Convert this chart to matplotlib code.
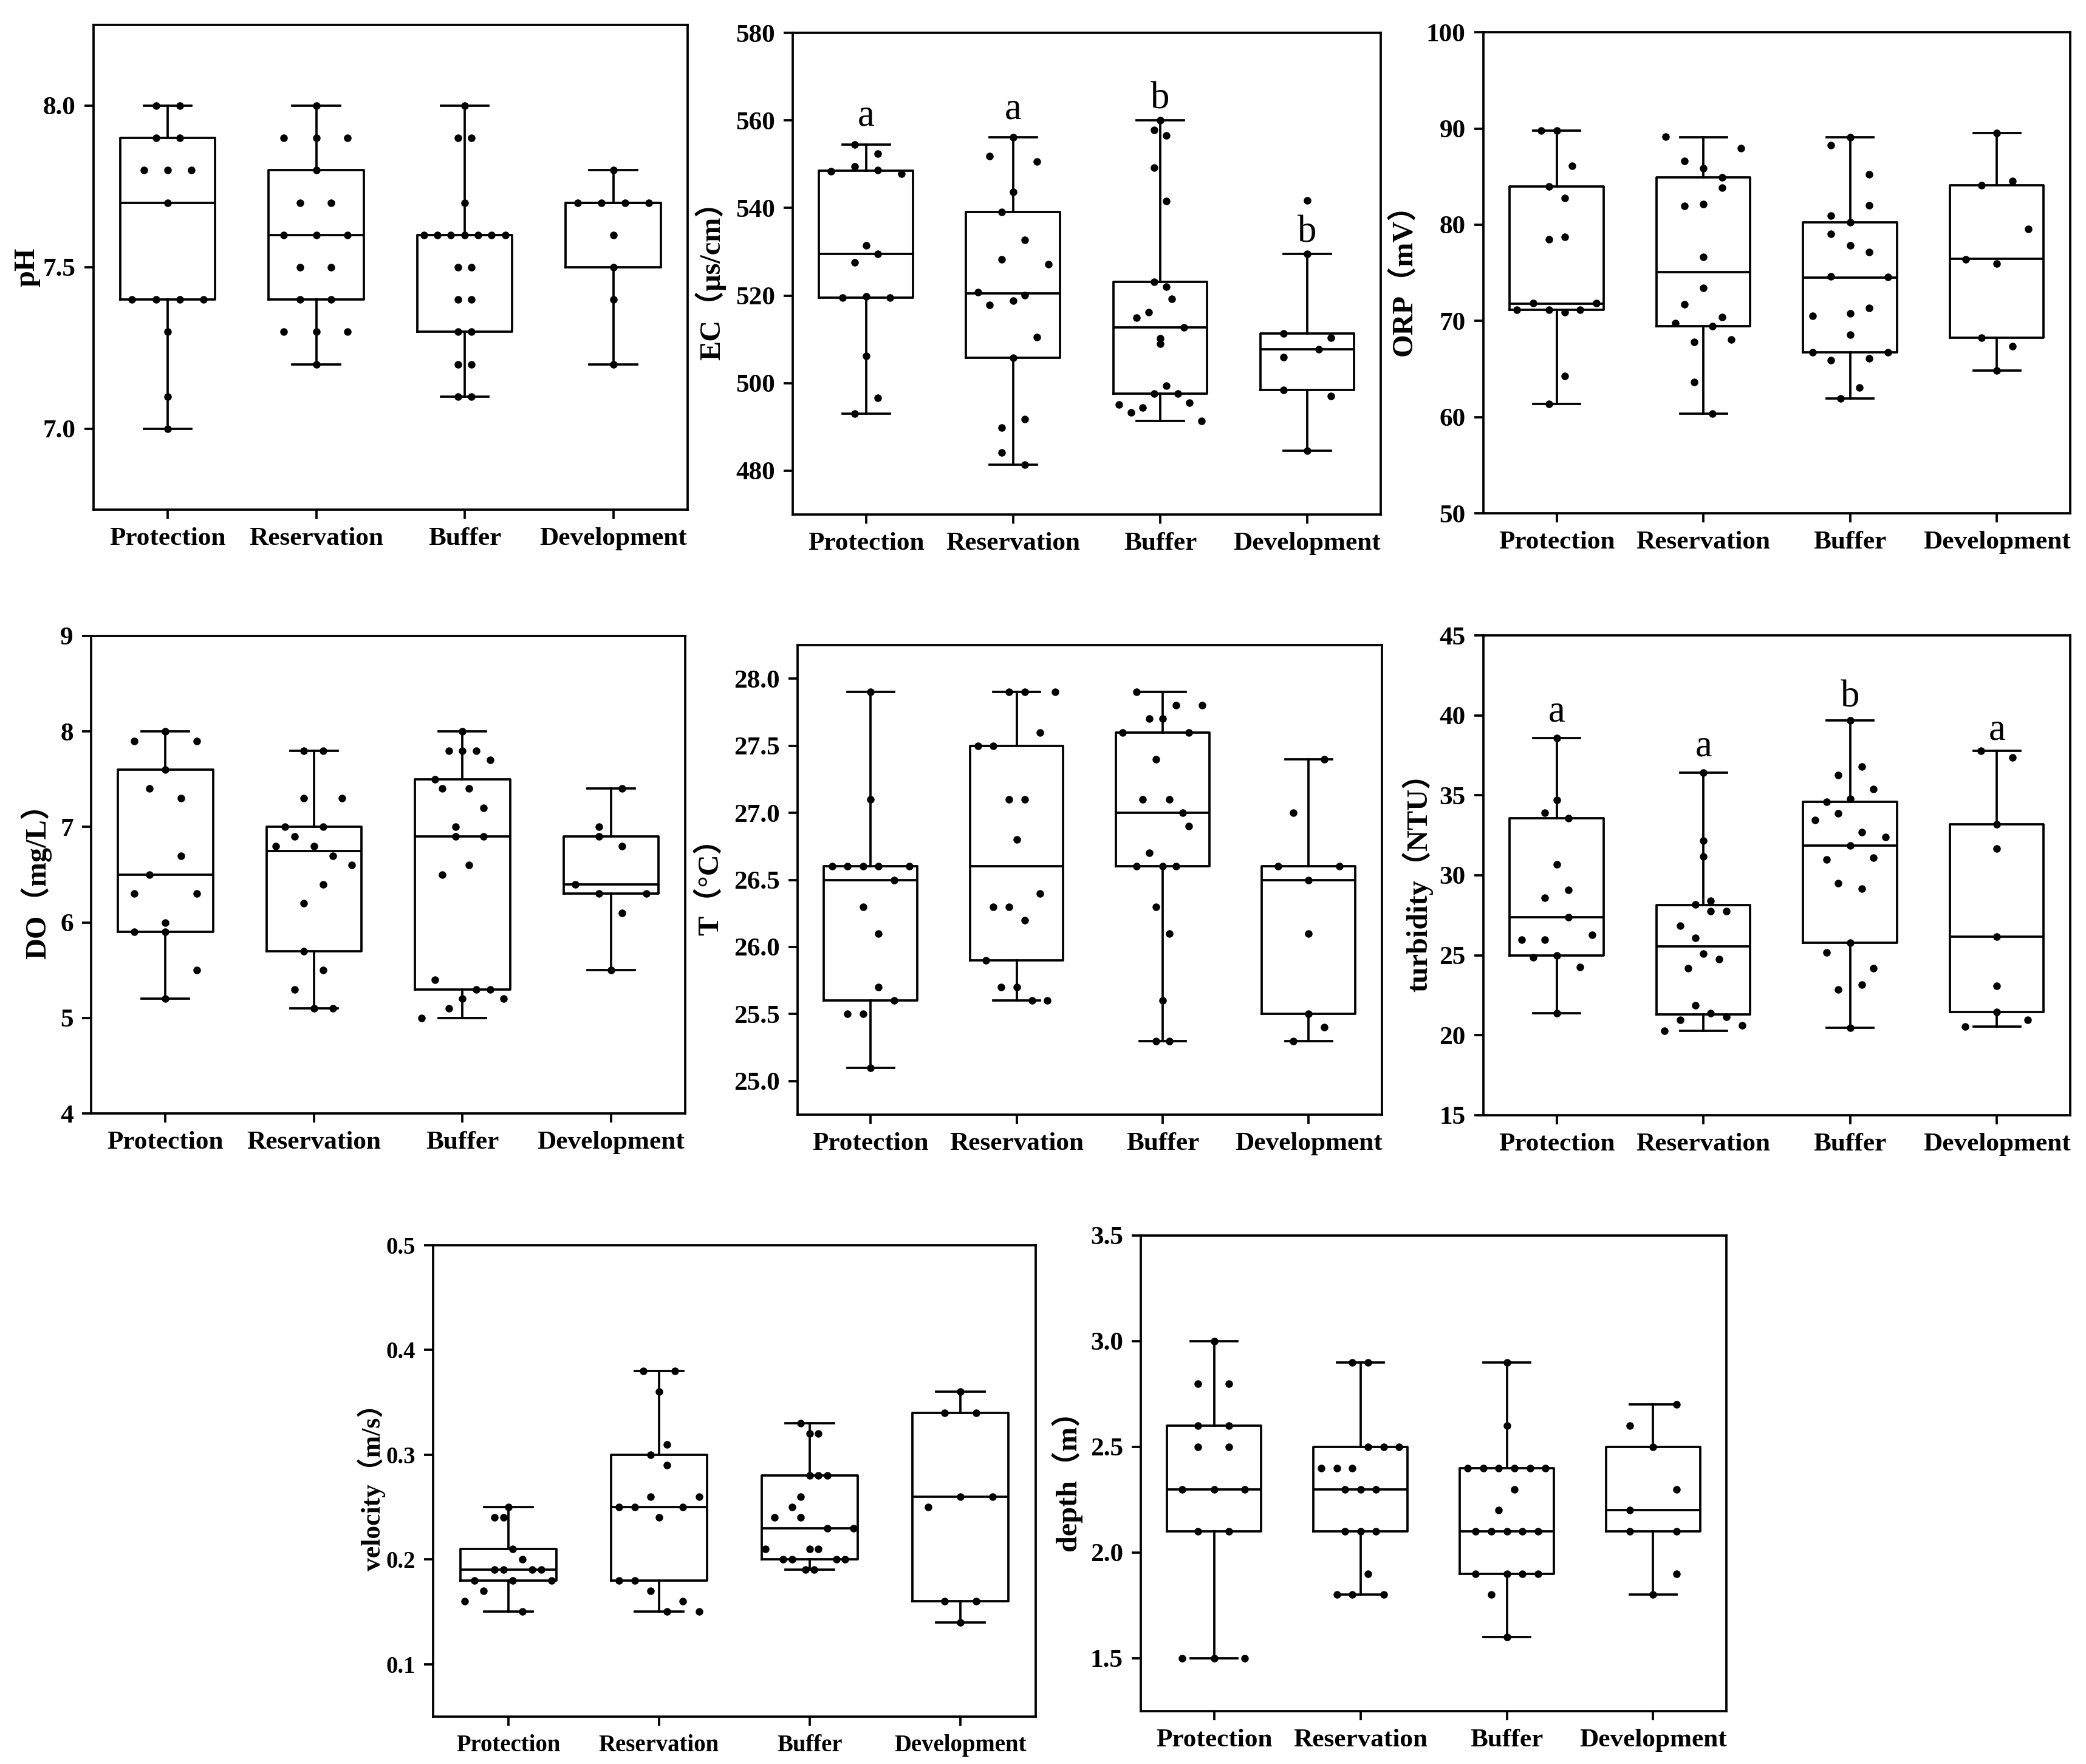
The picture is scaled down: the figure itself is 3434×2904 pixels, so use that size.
import matplotlib
matplotlib.use("Agg")
import matplotlib.pyplot as plt
from matplotlib.ticker import FormatStrFormatter

plt.rcParams['font.family'] = ['Liberation Serif', 'Noto Sans CJK SC']
plt.rcParams['font.weight'] = 'bold'
plt.rcParams['axes.linewidth'] = 0.9

groups = ['Protection', 'Reservation', 'Buffer', 'Development']

# ---- data: box stats (whislo, q1, med, q3, whishi), points, jitter ----
ph_stats = [(7.0, 7.4, 7.7, 7.9, 8.0), (7.2, 7.4, 7.6, 7.8, 8.0),
            (7.1, 7.3, 7.6, 7.6, 8.0), (7.2, 7.5, 7.7, 7.7, 7.8)]
ph_vals = [[8.0, 8.0, 7.9, 7.9, 7.8, 7.8, 7.8, 7.7, 7.4, 7.4, 7.4, 7.4, 7.3, 7.1, 7.0],
           [8.0, 7.9, 7.9, 7.9, 7.8, 7.7, 7.7, 7.6, 7.6, 7.6, 7.5, 7.5, 7.4, 7.4, 7.3, 7.3, 7.3, 7.2],
           [8.0, 7.9, 7.9, 7.7, 7.6, 7.6, 7.6, 7.6, 7.6, 7.6, 7.6, 7.5, 7.5, 7.4, 7.4, 7.3, 7.3,
            7.2, 7.2, 7.1, 7.1],
           [7.8, 7.7, 7.7, 7.7, 7.7, 7.6, 7.5, 7.4, 7.2]]
ph_jit = [[-0.08, 0.08, -0.08, 0.08, -0.16, 0, 0.16, 0, -0.24, -0.08, 0.08, 0.24, 0, 0, 0],
          [0, -0.22, 0, 0.21, 0, -0.11, 0.10, -0.22, 0, 0.21, -0.11, 0.10, -0.11, 0.10, -0.22, 0, 0.21, 0],
          [0, -0.045, 0.045, 0, -0.275, -0.185, -0.094, 0, 0.091, 0.181, 0.272, -0.045, 0.045,
           -0.045, 0.045, -0.045, 0.045, -0.045, 0.045, -0.045, 0.045],
          [0, -0.24, -0.08, 0.08, 0.24, 0, 0, 0, 0]]

ec_stats = [(493.1, 519.5, 529.5, 548.5, 554.5), (481.4, 505.8, 520.5, 539.1, 556.2),
            (491.4, 497.6, 512.7, 523.2, 560.0), (484.6, 498.5, 507.8, 511.4, 529.5)]
ec_vals = [[554.5, 552.4, 549.5, 548.4, 548.6, 547.8, 531.5, 529.5, 527.6, 519.5, 519.8, 519.5,
            506.2, 496.6, 493.1],
           [556.2, 551.9, 550.6, 543.6, 539.1, 532.7, 528.3, 527.2, 520.8, 520.1, 517.9, 518.9,
            510.5, 505.8, 491.8, 489.9, 484.1, 481.4],
           [560.0, 557.8, 556.5, 549.2, 541.6, 523.2, 522.0, 519.3, 516.2, 514.9, 512.7, 510.3,
            509.0, 499.4, 497.6, 497.6, 495.6, 495.1, 494.4, 493.3, 491.4],
           [541.7, 529.5, 511.4, 510.4, 507.8, 506.0, 498.5, 497.1, 484.6]]
ec_jit = [[-0.08, 0.08, -0.08, -0.24, 0.08, 0.24, 0, 0.08, -0.08, -0.16, 0, 0.16, 0, 0.08, -0.08],
          [0, -0.16, 0.16, 0, -0.08, 0.08, -0.08, 0.24, -0.24, 0.08, -0.16, 0, 0.16, 0, 0.08,
           -0.08, -0.08, 0.08],
          [0, -0.04, 0.04, -0.04, 0.04, -0.04, 0.04, 0.08, -0.08, -0.16, 0.16, 0, 0, 0.04, -0.04,
           0.12, 0.2, -0.28, -0.12, -0.2, 0.28],
          [0, 0, -0.16, 0.16, 0.08, -0.16, -0.16, 0.16, 0]]
ec_letters = ['a', 'a', 'b', 'b']
ec_letter_y = [558.8, 560.4, 562.7, 532.2]

orp_stats = [(61.35, 71.14, 71.8, 83.96, 89.75), (60.36, 69.44, 75.08, 84.95, 89.1),
             (61.91, 66.72, 74.5, 80.22, 89.1), (64.83, 68.23, 76.44, 84.1, 89.52)]
orp_vals = [[89.75, 89.75, 86.1, 83.96, 82.75, 78.74, 78.48, 71.86, 71.86, 71.14, 71.14, 70.9,
             71.14, 64.26, 61.35],
            [89.15, 87.97, 86.65, 85.85, 84.95, 83.85, 81.96, 82.15, 76.63, 73.45, 71.75, 70.42,
             69.74, 69.48, 68.04, 67.78, 63.65, 60.33],
            [89.1, 88.24, 85.25, 82.03, 80.94, 80.22, 79.05, 77.87, 77.16, 74.62, 74.55, 71.33,
             70.54, 70.76, 68.57, 66.75, 66.75, 65.92, 66.11, 63.05, 61.91],
            [89.52, 84.53, 84.1, 79.54, 76.4, 75.95, 68.23, 67.36, 64.83]]
orp_jit = [[-0.105, 0, 0.105, -0.054, 0.054, 0.054, -0.054, -0.16, 0.27, -0.27, -0.054, 0.054,
            0.16, 0.054, -0.054],
           [-0.257, 0.254, -0.13, 0, 0.127, 0.127, -0.13, 0, 0, 0, -0.13, 0.127, -0.193, 0.063,
            0.19, -0.063, -0.063, 0.063],
           [0, -0.13, 0.13, 0.13, -0.13, 0, -0.13, 0, 0.13, -0.13, 0.257, 0.13, -0.257, 0, 0,
            -0.257, 0.257, -0.13, 0.13, 0.063, -0.063],
           [0, 0.109, -0.106, 0.215, -0.21, 0, -0.106, 0.109, 0]]

do_stats = [(5.2, 5.9, 6.5, 7.6, 8.0), (5.1, 5.7, 6.75, 7.0, 7.8),
            (5.0, 5.3, 6.9, 7.5, 8.0), (5.5, 6.3, 6.4, 6.9, 7.4)]
do_vals = [[8.0, 7.9, 7.9, 7.6, 7.4, 7.3, 6.7, 6.5, 6.3, 6.3, 6.0, 5.9, 5.9, 5.5, 5.2],
           [7.8, 7.8, 7.3, 7.3, 7.0, 7.0, 6.9, 6.8, 6.8, 6.7, 6.6, 6.4, 6.2, 5.7, 5.5, 5.3, 5.1, 5.1],
           [8.0, 7.8, 7.8, 7.8, 7.7, 7.5, 7.4, 7.4, 7.2, 7.0, 6.9, 6.9, 6.6, 6.5, 5.4, 5.3, 5.3,
            5.2, 5.2, 5.1, 5.0],
           [7.4, 7.0, 6.9, 6.8, 6.4, 6.3, 6.3, 6.1, 5.5]]
do_jit = [[0, -0.21, 0.21, 0, -0.106, 0.106, 0.106, -0.106, -0.21, 0.21, 0, -0.21, 0, 0.21, 0],
          [-0.067, 0.064, -0.067, 0.19, -0.194, 0.064, -0.13, -0.257, 0, 0.127, 0.254, 0.064,
           -0.067, -0.067, 0.064, -0.13, 0, 0.127],
          [0, -0.09, 0, 0.094, 0.185, -0.185, -0.136, 0.045, 0.14, -0.045, -0.045, 0.14, 0.045,
           -0.136, -0.185, 0.094, 0.185, 0, 0.275, -0.09, -0.275],
          [0.076, -0.082, -0.082, 0.076, -0.24, -0.082, 0.236, 0.076, 0]]

t_stats = [(25.1, 25.6, 26.5, 26.6, 27.9), (25.6, 25.9, 26.6, 27.5, 27.9),
           (25.3, 26.6, 27.0, 27.6, 27.9), (25.3, 25.5, 26.5, 26.6, 27.4)]
t_vals = [[27.9, 27.1, 26.6, 26.6, 26.6, 26.6, 26.6, 26.5, 26.3, 26.1, 25.7, 25.6, 25.5, 25.5, 25.1],
          [27.9, 27.9, 27.9, 27.6, 27.5, 27.5, 27.1, 27.1, 26.8, 26.4, 26.3, 26.3, 26.2, 25.9,
           25.7, 25.7, 25.6, 25.6],
          [27.9, 27.8, 27.8, 27.7, 27.7, 27.6, 27.6, 27.4, 27.1, 27.1, 27.0, 26.9, 26.7, 26.6,
           26.6, 26.6, 26.3, 26.1, 25.6, 25.3, 25.3],
          [27.4, 27.0, 26.6, 26.6, 26.5, 26.1, 25.5, 25.4, 25.3]]
t_jit = [[0, 0, -0.263, -0.157, -0.051, 0.054, 0.266, 0.16, -0.051, 0.054, 0.054, 0.16, -0.157,
          -0.051, 0],
         [-0.051, 0.054, 0.266, 0.16, -0.266, -0.16, -0.051, 0.054, 0, 0.16, -0.16, -0.051, 0.054,
          -0.21, -0.106, 0, 0.106, 0.21],
         [-0.18, 0.09, 0.27, -0.09, 0, -0.275, 0.18, -0.045, -0.136, 0.045, 0.136, 0.18, -0.09,
          -0.18, 0, 0.09, -0.045, 0.045, 0, -0.045, 0.045],
         [0.106, -0.106, -0.21, 0.21, 0, 0, 0, 0.106, -0.106]]

tur_stats = [(21.37, 24.97, 27.39, 33.57, 38.58), (20.27, 21.32, 25.57, 28.15, 36.40),
             (20.46, 25.78, 31.87, 34.58, 39.68), (20.56, 21.47, 26.16, 33.19, 37.79)]
tur_vals = [[38.58, 34.70, 33.90, 33.57, 30.67, 29.09, 28.58, 27.39, 25.97, 25.97, 26.26, 24.97,
             24.87, 24.27, 21.37],
            [36.40, 32.18, 31.17, 28.18, 28.39, 27.77, 27.77, 26.86, 26.07, 25.09, 24.77, 24.18,
             21.88, 21.37, 20.96, 21.16, 20.63, 20.27],
            [39.68, 36.80, 36.28, 35.39, 34.79, 34.58, 33.88, 33.47, 32.68, 32.40, 31.87, 31.10,
             30.98, 29.50, 29.18, 25.78, 25.18, 24.18, 23.17, 22.86, 20.46],
            [37.79, 37.38, 33.19, 31.68, 26.16, 23.07, 21.47, 20.96, 20.56]]
tur_jit = [[0, 0, -0.08, 0.08, 0, 0.08, -0.08, 0.08, -0.24, -0.08, 0.24, 0, -0.16, 0.16, 0],
           [0, 0, 0, -0.054, 0.05, 0.05, 0.157, -0.16, -0.054, 0, 0.106, -0.106, -0.054, 0.05,
            -0.16, 0.157, 0.266, -0.266],
           [0, 0.08, -0.08, 0.16, 0, -0.16, -0.08, -0.24, 0.08, 0.24, 0, 0.16, -0.16, -0.08, 0.08,
            0, -0.16, 0.16, 0.08, -0.08, 0],
           [-0.11, 0.106, 0, 0, 0, 0, 0, 0.21, -0.214]]
tur_letters = ['a', 'a', 'b', 'a']
tur_letter_y = [39.63, 37.48, 40.52, 38.48]

vel_stats = [(0.15, 0.18, 0.19, 0.21, 0.25), (0.15, 0.18, 0.25, 0.30, 0.38),
             (0.19, 0.20, 0.23, 0.28, 0.33), (0.14, 0.16, 0.26, 0.34, 0.36)]
vel_vals = [[0.25, 0.24, 0.24, 0.21, 0.20, 0.19, 0.19, 0.19, 0.19, 0.18, 0.18, 0.18, 0.17, 0.16, 0.15],
            [0.38, 0.38, 0.36, 0.31, 0.30, 0.29, 0.26, 0.26, 0.25, 0.25, 0.25, 0.24, 0.18, 0.18,
             0.17, 0.16, 0.15, 0.15],
            [0.33, 0.32, 0.32, 0.28, 0.28, 0.28, 0.26, 0.25, 0.24, 0.24, 0.23, 0.23, 0.21, 0.21,
             0.21, 0.20, 0.20, 0.20, 0.20, 0.19, 0.19],
            [0.36, 0.34, 0.34, 0.26, 0.26, 0.25, 0.16, 0.16, 0.14]]
vel_jit = [[0, -0.094, -0.033, 0.03, 0.094, -0.094, -0.033, 0.158, 0.218, -0.227, 0.03, 0.285,
            -0.164, -0.29, 0.094],
           [-0.106, 0.106, 0, 0.052, -0.055, 0.052, -0.055, 0.267, -0.267, -0.16, 0.158, 0,
            -0.267, -0.16, -0.055, 0.158, 0.052, 0.267],
           [-0.06, 0, 0.058, 0, 0.058, 0.118, -0.06, -0.118, -0.233, -0.06, 0.118, 0.29, -0.294, 0,
            0.058, -0.176, -0.118, 0.176, 0.233, -0.03, 0.027],
           [0, -0.106, 0.106, 0, 0.212, -0.212, -0.106, 0.106, 0]]

dep_stats = [(1.5, 2.1, 2.3, 2.6, 3.0), (1.8, 2.1, 2.3, 2.5, 2.9),
             (1.6, 1.9, 2.1, 2.4, 2.9), (1.8, 2.1, 2.2, 2.5, 2.7)]
dep_vals = [[3.0, 2.8, 2.8, 2.6, 2.6, 2.5, 2.5, 2.3, 2.3, 2.3, 2.1, 2.1, 1.5, 1.5, 1.5],
            [2.9, 2.9, 2.5, 2.5, 2.5, 2.4, 2.4, 2.4, 2.3, 2.3, 2.3, 2.1, 2.1, 2.1, 1.9, 1.8, 1.8, 1.8],
            [2.9, 2.6, 2.4, 2.4, 2.4, 2.4, 2.4, 2.4, 2.3, 2.2, 2.1, 2.1, 2.1, 2.1, 2.1, 1.9, 1.9,
             1.9, 1.9, 1.8, 1.6],
            [2.7, 2.6, 2.5, 2.3, 2.2, 2.1, 2.1, 1.9, 1.8]]
dep_jit = [[0, -0.11, 0.1, -0.11, 0.1, -0.11, 0.1, -0.216, 0, 0.21, -0.11, 0.1, -0.216, 0, 0.21],
           [-0.055, 0.052, 0.052, 0.158, 0.265, -0.268, -0.161, -0.055, -0.107, 0, 0.107, -0.107,
            0, 0.107, 0.052, -0.161, -0.055, 0.158],
           [0, 0, -0.268, -0.161, -0.055, 0.052, 0.158, 0.265, 0.052, -0.055, -0.213, -0.107, 0,
            0.107, 0.213, -0.213, 0, 0.107, 0.213, -0.107, 0],
           [0.158, -0.161, 0, 0.158, -0.161, -0.161, 0.158, 0.158, 0]]


def panel(rect, stats, vals, jit, ylabel, ylim, ticks, fmt, labx,
          letters=None, letter_y=None, fs=10.4):
    ax = fig.add_axes(rect)
    bstats = [dict(whislo=s[0], q1=s[1], med=s[2], q3=s[3], whishi=s[4]) for s in stats]
    lp = dict(color='black', linewidth=0.9)
    ax.bxp(bstats, positions=range(4), widths=0.64, capwidths=0.32, showfliers=False,
           boxprops=lp, whiskerprops=lp, capprops=lp, medianprops=lp)
    for i in range(4):
        xs = [i + j for j in jit[i]]
        ax.scatter(xs, vals[i], s=9, color='black', zorder=3, linewidths=0)
    if letters:
        for i, (t, y) in enumerate(zip(letters, letter_y)):
            ax.text(i, y, t, ha='center', va='baseline', fontsize=15,
                    fontweight='normal', family='Liberation Serif')
    ax.set_xlim(-0.5, 3.5)
    ax.set_ylim(*ylim)
    ax.set_yticks(ticks)
    ax.yaxis.set_major_formatter(FormatStrFormatter(fmt))
    ax.set_xticks(range(4))
    ax.set_xticklabels(groups)
    ax.tick_params(direction='out', length=3.5, width=0.9, labelsize=fs, pad=3.5)
    ax.set_ylabel(ylabel, fontsize=fs + 1.2, fontweight='bold')
    ax.yaxis.set_label_coords(labx, 0.5)
    return ax


fig = plt.figure(figsize=(3434 / 300, 2904 / 300), dpi=300)

panel([0.0448, 0.7111, 0.2848, 0.2748], ph_stats, ph_vals, ph_jit, 'pH',
      (6.75, 8.25), [7.0, 7.5, 8.0], '%.1f', -0.089)
panel([0.3800, 0.7083, 0.2819, 0.2731], ec_stats, ec_vals, ec_jit, 'EC（μs/cm）',
      (470, 580), range(480, 581, 20), '%d', -0.113, ec_letters, ec_letter_y)
panel([0.7111, 0.7090, 0.2813, 0.2727], orp_stats, orp_vals, orp_jit, 'ORP（mV）',
      (50, 100), range(50, 101, 10), '%d', -0.112)
panel([0.0437, 0.3688, 0.2848, 0.2707], do_stats, do_vals, do_jit, 'DO（mg/L）',
      (4, 9), range(4, 10), '%d', -0.066)
panel([0.3823, 0.3681, 0.2801, 0.2662], t_stats, t_vals, t_jit, 'T（°C）',
      (24.75, 28.25), [25.0, 25.5, 26.0, 26.5, 27.0, 27.5, 28.0], '%.1f', -0.125)
panel([0.7111, 0.3678, 0.2813, 0.2720], tur_stats, tur_vals, tur_jit, 'turbidity（NTU）',
      (15, 45), range(15, 46, 5), '%d', -0.086, tur_letters, tur_letter_y)
panel([0.2076, 0.0269, 0.2889, 0.2672], vel_stats, vel_vals, vel_jit, 'velocity（m/s）',
      (0.05, 0.5), [0.1, 0.2, 0.3, 0.4, 0.5], '%.1f', -0.079, fs=9.3)
panel([0.5469, 0.0300, 0.2807, 0.2696], dep_stats, dep_vals, dep_jit, 'depth（m）',
      (1.25, 3.5), [1.5, 2.0, 2.5, 3.0, 3.5], '%.1f', -0.101)

fig.savefig('out.png', dpi=300)
